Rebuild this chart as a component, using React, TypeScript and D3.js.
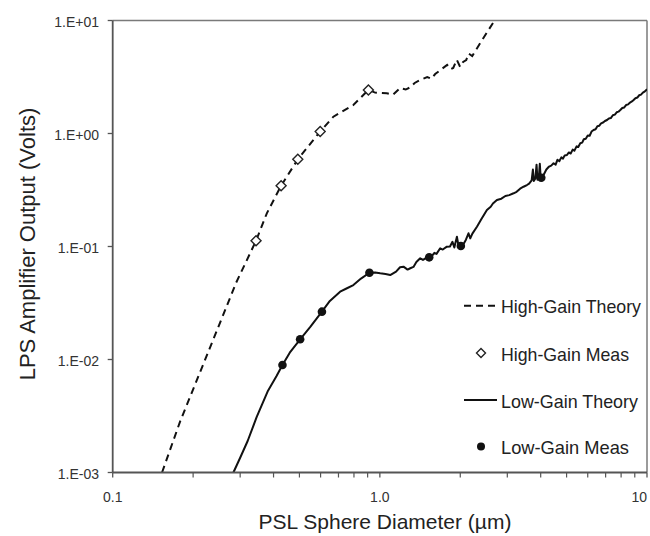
import React from "react";
import * as d3 from "d3";

// ---- data ----
const xTickValues = [0.1, 1, 10];
const xTickLabels = ["0.1", "1.0", "10"];
const yTickValues = [10, 1, 0.1, 0.01, 0.001];
const yTickLabels = ["1.E+01", "1.E+00", "1.E-01", "1.E-02", "1.E-03"];

const highMeasX = [0.344, 0.427, 0.493, 0.598, 0.906];
const highMeasY = [0.1125, 0.345, 0.591, 1.04, 2.43];

const lowMeasX = [0.432, 0.503, 0.607, 0.914, 1.53, 2.01, 4.02];
const lowMeasY = [0.00893, 0.0151, 0.0265, 0.0586, 0.0802, 0.101, 0.406];

const highTheoryX = [
  0.153, 0.1787, 0.2375, 0.29, 0.344, 0.3775, 0.4269, 0.4932, 0.5975, 0.67,
  0.796, 0.906, 0.96, 1.062, 1.12, 1.191, 1.25, 1.299, 1.35, 1.416, 1.504,
  1.56, 1.611, 1.7, 1.786, 1.84, 1.882, 1.94, 1.998, 2.05, 2.105, 2.15,
  2.217, 2.375, 2.523, 2.68, 2.75,
];
const highTheoryY = [
  0.001, 0.00282, 0.01488, 0.048, 0.1125, 0.1967, 0.345, 0.591, 1.04, 1.408,
  1.787, 2.43, 2.3, 2.269, 2.2, 2.527, 2.45, 2.563, 2.8, 2.975, 3.162, 3.05,
  3.361, 3.7, 4.04, 3.7, 3.8, 4.5, 3.88, 4.3, 4.47, 5.1, 4.85, 6.32, 7.91,
  9.9, 11.5,
];

const lowTheoryX = [
  0.283, 0.3, 0.32, 0.346, 0.38, 0.41, 0.432, 0.46, 0.503, 0.55, 0.607, 0.65,
  0.71, 0.75, 0.796, 0.85, 0.914, 0.96, 1.003, 1.05, 1.093, 1.15, 1.19, 1.226,
  1.27, 1.3, 1.336, 1.37, 1.416, 1.45, 1.49, 1.53, 1.57, 1.6, 1.63, 1.682,
  1.72, 1.782, 1.83, 1.87, 1.9, 1.943, 1.97, 2.01, 2.06, 2.1, 2.147, 2.18,
  2.22, 2.309, 2.4, 2.516, 2.6, 2.65, 2.743, 2.85, 2.95, 3.05, 3.166, 3.25,
  3.35, 3.45, 3.553, 3.62, 3.7, 3.74, 3.77, 3.82, 3.86, 3.89, 3.94, 3.97, 4.0,
  4.1, 4.2, 4.3, 4.38, 4.469, 4.55, 4.62, 4.7, 4.78, 4.85, 4.92, 5.017, 5.1,
  5.18, 5.27, 5.35, 5.45, 5.53, 5.626, 5.72, 5.8, 5.9, 6.0, 6.1, 6.2, 6.31,
  6.42, 6.52, 6.62, 6.73, 6.85, 6.96, 7.085, 7.2, 7.32, 7.45, 7.58, 7.7, 7.82,
  7.944, 8.08, 8.22, 8.36, 8.5, 8.64, 8.78, 8.91, 9.05, 9.2, 9.35, 9.5, 9.65,
  9.82, 10.0,
];
const lowTheoryY = [
  0.001, 0.00135, 0.0019, 0.0031, 0.0052, 0.0071, 0.00893, 0.0115, 0.0151,
  0.0195, 0.0265, 0.033, 0.0398, 0.0425, 0.0456, 0.052, 0.0586, 0.059, 0.0579,
  0.057, 0.0559, 0.06, 0.0655, 0.0663, 0.0625, 0.0642, 0.066, 0.073, 0.0786,
  0.076, 0.079, 0.0802, 0.083, 0.088, 0.086, 0.0964, 0.094, 0.0996, 0.1,
  0.11, 0.098, 0.122, 0.101, 0.101, 0.106, 0.115, 0.1309, 0.118, 0.13,
  0.1497, 0.175, 0.2104, 0.225, 0.24, 0.258, 0.265, 0.28, 0.285, 0.2957,
  0.305, 0.325, 0.338, 0.35, 0.36, 0.385, 0.48, 0.38, 0.4, 0.53, 0.39, 0.42,
  0.54, 0.406, 0.43, 0.48, 0.51, 0.52, 0.545, 0.53, 0.585, 0.57, 0.615, 0.6,
  0.64, 0.645, 0.68, 0.665, 0.72, 0.705, 0.77, 0.76, 0.819, 0.83, 0.89, 0.9,
  0.96, 0.955, 1.04, 1.074, 1.09, 1.16, 1.17, 1.23, 1.25, 1.29, 1.317, 1.36,
  1.37, 1.45, 1.47, 1.54, 1.56, 1.614, 1.68, 1.7, 1.79, 1.81, 1.88, 1.92,
  1.979, 2.05, 2.08, 2.18, 2.21, 2.3, 2.36, 2.461,
];

const legendLabels = [
  "High-Gain Theory",
  "High-Gain Meas",
  "Low-Gain Theory",
  "Low-Gain Meas",
];

const W = 650;
const H = 536;
const L = 112.7;
const R = 647;
const T = 20.5;
const B = 472.5;
const FONT = "'Liberation Sans', Arial, Helvetica, sans-serif";

export default function App() {
  const x = d3.scaleLog().domain([0.1, 10]).range([L, R]);
  const y = d3.scaleLog().domain([0.001, 10]).range([B, T]);

  const line = d3
    .line<[number, number]>()
    .x((d) => x(d[0]))
    .y((d) => y(d[1]));

  const hiPts = highTheoryX.map((v, i) => [v, highTheoryY[i]] as [number, number]);
  const loPts = lowTheoryX.map((v, i) => [v, lowTheoryY[i]] as [number, number]);

  const minorTicks: number[] = [];
  [0.1, 1].forEach((dec) => {
    for (let k = 2; k <= 9; k++) minorTicks.push(dec * k);
  });

  const legendX = 464;
  const legendTextX = 501;
  const legendYs = [305.7, 353, 400, 446.5];

  const diamond = (cx: number, cy: number, s: number) =>
    `M${cx},${cy - s}L${cx + s},${cy}L${cx},${cy + s}L${cx - s},${cy}Z`;

  return (
    <svg
      width={W}
      height={H}
      style={{ position: "absolute", left: 0, top: 0, background: "#fff" }}
      fontFamily={FONT}
    >
      <defs>
        <clipPath id="plotclip">
          <rect x={L} y={T} width={R - L} height={B - T} />
        </clipPath>
      </defs>
      <rect x={0} y={0} width={W} height={H} fill="#fff" />

      {/* plot border */}
      <line x1={L} x2={R} y1={T} y2={T} stroke="#7a7a7a" strokeWidth={1.5} />
      <line x1={R} x2={R} y1={T} y2={B} stroke="#7a7a7a" strokeWidth={1.5} />

      {/* series */}
      <g clipPath="url(#plotclip)">
        <path
          d={line(hiPts) || ""}
          fill="none"
          stroke="#111"
          strokeWidth={2}
          strokeDasharray="7,5"
        />
        <path
          d={line(loPts) || ""}
          fill="none"
          stroke="#111"
          strokeWidth={2}
          strokeLinejoin="round"
        />
        {highMeasX.map((v, i) => (
          <path
            key={"hm" + i}
            d={diamond(x(v), y(highMeasY[i]), 5)}
            fill="#fff"
            stroke="#222"
            strokeWidth={1.4}
          />
        ))}
        {lowMeasX.map((v, i) => (
          <circle
            key={"lm" + i}
            cx={x(v)}
            cy={y(lowMeasY[i])}
            r={4.3}
            fill="#111"
          />
        ))}
      </g>

      {/* axes */}
      <line x1={L} x2={L} y1={T} y2={B} stroke="#555" strokeWidth={1.8} />
      <line x1={L} x2={R} y1={B} y2={B} stroke="#555" strokeWidth={1.8} />

      {yTickValues.map((v, i) => (
        <g key={"yt" + i}>
          <line x1={L - 5} x2={L} y1={y(v)} y2={y(v)} stroke="#555" strokeWidth={1.3} />
          <text
            x={99}
            y={y(v) + 1.2}
            textAnchor="end"
            dominantBaseline="central"
            fontSize={14}
            fill="#333"
          >
            {yTickLabels[i]}
          </text>
        </g>
      ))}

      {xTickValues.map((v) => (
        <line key={"xM" + v} x1={x(v)} x2={x(v)} y1={B} y2={B + 5} stroke="#555" strokeWidth={1.3} />
      ))}
      {minorTicks.map((v) => (
        <line key={"xm" + v} x1={x(v)} x2={x(v)} y1={B} y2={B + 5} stroke="#555" strokeWidth={1.2} />
      ))}
      {xTickValues.map((v, i) => (
        <text
          key={"xl" + v}
          x={x(v)}
          y={502}
          textAnchor={i === xTickValues.length - 1 ? "end" : "middle"}
          fontSize={14}
          fill="#333"
        >
          {xTickLabels[i]}
        </text>
      ))}

      {/* axis titles */}
      <text x={385} y={529} textAnchor="middle" fontSize={21} fill="#222">
        PSL Sphere Diameter (µm)
      </text>
      <text
        transform={`translate(34.5,244) rotate(-90)`}
        textAnchor="middle"
        fontSize={22}
        fill="#222"
      >
        LPS Amplifier Output (Volts)
      </text>

      {/* legend */}
      <line
        x1={legendX}
        x2={497}
        y1={legendYs[0]}
        y2={legendYs[0]}
        stroke="#111"
        strokeWidth={2}
        strokeDasharray="7,5"
      />
      <path d={diamond(481, legendYs[1], 4.5)} fill="#fff" stroke="#222" strokeWidth={1.4} />
      <line x1={legendX} x2={497} y1={legendYs[2]} y2={legendYs[2]} stroke="#111" strokeWidth={2} />
      <circle cx={481} cy={legendYs[3]} r={4} fill="#111" />
      {legendLabels.map((lab, i) => (
        <text
          key={lab}
          x={legendTextX}
          y={legendYs[i] + 1}
          dominantBaseline="central"
          fontSize={19}
          fill="#222"
          textLength={lab.endsWith("Theory") ? (i === 0 ? 140 : 137) : 128}
          lengthAdjust="spacingAndGlyphs"
        >
          {lab}
        </text>
      ))}
    </svg>
  );
}
